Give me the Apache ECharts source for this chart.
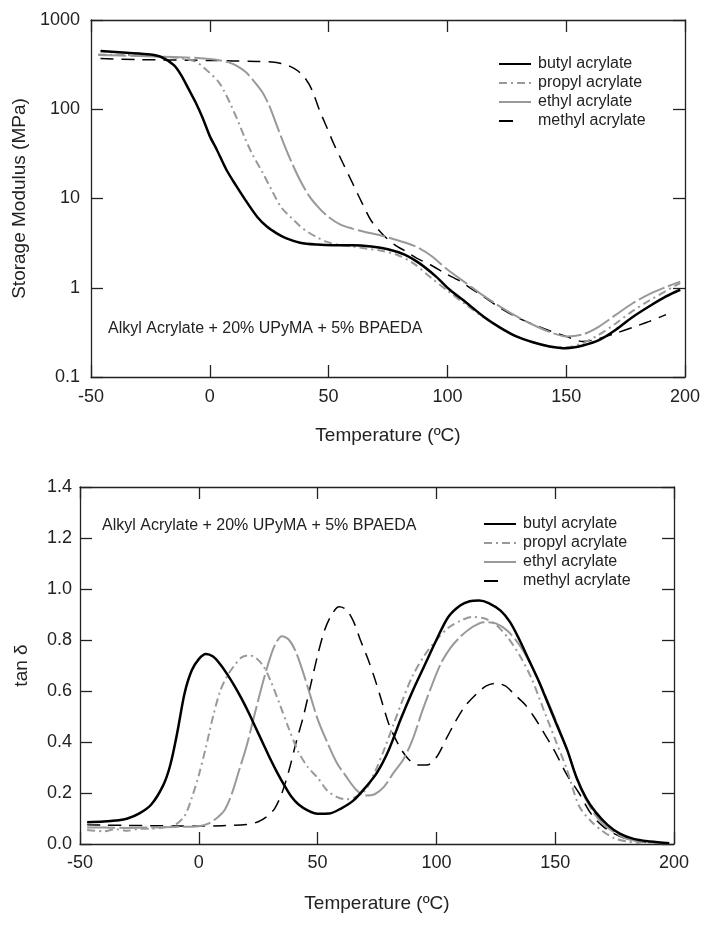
<!DOCTYPE html>
<html>
<head>
<meta charset="utf-8">
<script src="https://cdn.jsdelivr.net/npm/echarts@6/dist/echarts.min.js"></script>
<style>
html,body{margin:0;padding:0;background:#fff;}
#chart{width:714px;height:928px;}
</style>
</head>
<body>
<div id="chart"></div>
<script>
// ---------- data ----------
var seriesNames = ['butyl acrylate', 'propyl acrylate', 'ethyl acrylate', 'methyl acrylate'];
var xTicks = [-50, 0, 50, 100, 150, 200];
var modTicks = [0.1, 1, 10, 100, 1000];
var tanTicks = [0, 0.2, 0.4, 0.6, 0.8, 1.0, 1.2, 1.4];
var annotation = 'Alkyl Acrylate + 20% UPyMA + 5% BPAEDA';

// Storage modulus (MPa)
var butylModT = [-46,-35,-25,-20,-15,-12,-9,-6,-3,0,3,7,11,15,20,24,28,32,38,45,52,60,68,75,82,88,95,101,108,115,122,129,136,143,150,157,164,171,178,185,192,198];
var butylModV = [450,430,410,380,310,240,170,120,80,50,35,21,14,9.6,6.2,4.85,4.1,3.6,3.2,3.05,3.0,3.0,2.9,2.7,2.35,1.9,1.35,0.95,0.68,0.48,0.36,0.285,0.245,0.22,0.21,0.225,0.26,0.34,0.47,0.62,0.8,0.95];

var propylModT = [-47,-35,-25,-15,-10,-6,-3,0,3.6,6,9,12,15,18,22,26,30,34,38,41,45,49,55,60,65,72,79,86,93,100,108,115,122,129,136,143,150,157,164,171,178,185,192,198];
var propylModV = [410,405,395,380,365,341,300,255,204,160,110,72,46,31,20,12.5,8,6.2,4.9,4.26,3.7,3.29,3.0,2.9,2.77,2.6,2.33,1.85,1.3,0.93,0.64,0.47,0.36,0.285,0.245,0.22,0.215,0.24,0.3,0.4,0.55,0.72,0.92,1.13];

var ethylModT = [-47,-30,-15,-5,0,5,8,11,15,18,22,25,28,31,34,38,42,46,50,55,60,65,72,79,86,93,100,108,115,122,129,136,143,150,157,164,171,178,185,192,198];
var ethylModV = [405,395,385,375,365,350,335,310,263,215,157,110,68,42,27,16,10.5,7.8,6.2,5.1,4.6,4.25,3.85,3.4,2.95,2.3,1.6,1.12,0.82,0.62,0.48,0.385,0.32,0.285,0.3,0.37,0.5,0.67,0.85,1.02,1.17];

var methylModT = [-46,-30,-10,0,10,20,26,30,34,37,40,43,46,49,52,56,60,64,68,73,78,82,87,93,99,105,110,115,122,129,136,143,150,157,164,171,178,185,192];
var methylModV = [370,360,355,352,348,343,338,325,300,270,225,165,100,65,42,25,15,9.0,5.6,3.9,3.0,2.6,2.15,1.8,1.45,1.2,0.98,0.8,0.6,0.47,0.39,0.33,0.285,0.25,0.27,0.31,0.36,0.42,0.5];

// tan delta
var butylTanT = [-47,-40,-35,-30,-25,-20,-15,-12,-9,-6,-3,0,3,6,9,12,15,18,21,24,27,30,33,36,39,42,46,50,55,60,65,70,75,80,85,90,95,100,105,110,114,118,122,127,131,135,139,143,147,151,155,159,163,167,172,177,183,190,198];
var butylTanV = [0.085,0.088,0.092,0.1,0.12,0.155,0.23,0.31,0.44,0.59,0.68,0.725,0.745,0.735,0.705,0.665,0.62,0.57,0.515,0.455,0.395,0.335,0.28,0.23,0.185,0.155,0.131,0.119,0.12,0.14,0.17,0.22,0.28,0.37,0.49,0.6,0.7,0.8,0.89,0.935,0.952,0.955,0.945,0.915,0.87,0.8,0.72,0.64,0.55,0.46,0.37,0.26,0.18,0.125,0.075,0.042,0.02,0.01,0.003];

var propylTanT = [-47,-40,-35,-30,-25,-20,-15,-10,-6,-3,0,3,6,9,12,15,18,21,24,27,30,34,38,42,46,50,54,58,62,66,70,74,78,82,86,90,95,100,105,110,115,120,125,130,135,140,145,150,155,160,165,170,175,180,186];
var propylTanV = [0.055,0.05,0.058,0.052,0.06,0.06,0.065,0.075,0.11,0.18,0.27,0.38,0.5,0.6,0.66,0.7,0.732,0.74,0.73,0.7,0.645,0.55,0.45,0.36,0.3,0.26,0.21,0.185,0.175,0.185,0.21,0.28,0.37,0.47,0.57,0.66,0.74,0.8,0.848,0.875,0.89,0.885,0.86,0.81,0.74,0.65,0.53,0.41,0.29,0.15,0.09,0.05,0.022,0.01,0.003];

var ethylTanT = [-47,-40,-30,-20,-10,0,4,8,11,14,17,20,23,26,29,32,35,38,41,44,47,50,54,58,62,66,70,74,78,82,86,90,94,98,102,106,110,115,120,125,130,135,140,145,150,155,160,165,170,175,180,186,192,198];
var ethylTanV = [0.065,0.065,0.063,0.065,0.067,0.07,0.08,0.105,0.135,0.2,0.29,0.38,0.49,0.6,0.7,0.78,0.815,0.8,0.75,0.67,0.58,0.49,0.4,0.32,0.265,0.215,0.19,0.195,0.225,0.28,0.33,0.41,0.52,0.62,0.71,0.77,0.812,0.85,0.87,0.865,0.835,0.78,0.7,0.6,0.49,0.37,0.235,0.14,0.08,0.045,0.02,0.01,0.005,0.003];

var methylTanT = [-47,-40,-30,-20,-10,0,10,20,25,29,32,35,38,41,44,47,50,53,56,59,62,65,68,71,74,77,80,84,88,92,96,100,104,108,112,117,121,125,129,133,137,141,145,150,155,160,165,170,175,180,186,192,198];
var methylTanV = [0.075,0.074,0.073,0.072,0.071,0.07,0.072,0.076,0.087,0.11,0.14,0.2,0.29,0.4,0.5,0.62,0.74,0.84,0.9,0.93,0.92,0.875,0.8,0.73,0.65,0.56,0.47,0.39,0.335,0.31,0.31,0.34,0.41,0.48,0.54,0.59,0.62,0.63,0.62,0.585,0.55,0.5,0.44,0.36,0.27,0.2,0.12,0.07,0.04,0.02,0.01,0.005,0.003];

// ---------- build ----------
function zip(t, v){ return t.map(function(x,i){ return [x, v[i]]; }); }

var FONT = 'Liberation Sans';
var GRAY = '#999999';
var styles = [
  {color:'#000000', width:2.5, type:'solid'},
  {color:GRAY, width:2, type:[8,4,2,4]},
  {color:GRAY, width:2, type:[28,4]},
  {color:'#000000', width:1.5, type:[13,8]}
];
var modData = [zip(butylModT,butylModV), zip(propylModT,propylModV), zip(ethylModT,ethylModV), zip(methylModT,methylModV)];
var tanData = [zip(butylTanT,butylTanV), zip(propylTanT,propylTanV), zip(ethylTanT,ethylTanV), zip(methylTanT,methylTanV)];

var series = [];
seriesNames.forEach(function(n,i){
  series.push({name:n, type:'line', xAxisIndex:0, yAxisIndex:0, data:modData[i], showSymbol:false, symbol:'none',
    smooth:0.3,
    lineStyle:styles[i], itemStyle:{color:styles[i].color}, z: 10-i, animation:false});
});
seriesNames.forEach(function(n,i){
  series.push({name:n, type:'line', xAxisIndex:2, yAxisIndex:2, data:tanData[i], showSymbol:false, symbol:'none',
    smooth:0.3,
    lineStyle:styles[i], itemStyle:{color:styles[i].color}, z: 10-i, animation:false});
});

var axisLine = {show:true, onZero:false, lineStyle:{color:'#222', width:1.3}};
var tick = {show:true, inside:true, length:12, lineStyle:{color:'#222', width:1.3}};
var labelStyle = {fontFamily:FONT, fontSize:18, color:'#222'};

function xAxes(grid, margin, gap){
  return [
    {type:'value', gridIndex:grid, position:'bottom', min:xTicks[0], max:xTicks[xTicks.length-1], interval:50,
      axisLine:axisLine, axisTick:tick,
      axisLabel:Object.assign({margin:margin}, labelStyle), splitLine:{show:false},
      name:'Temperature (ºC)', nameLocation:'middle', nameGap:gap, nameTextStyle:{fontFamily:FONT, fontSize:19, color:'#222'}},
    {type:'value', gridIndex:grid, position:'top', min:xTicks[0], max:xTicks[xTicks.length-1], interval:50,
      axisLine:axisLine, axisTick:tick,
      axisLabel:{show:false}, splitLine:{show:false}}
  ];
}

var legendData = [
  {name:'butyl acrylate'},
  {name:'propyl acrylate'},
  {name:'ethyl acrylate', lineStyle:{type:'solid'}},
  {name:'methyl acrylate', lineStyle:{type:[14,40]}}
];
function legend(left, top){
  return {left:left, top:top, padding:0, orient:'vertical', itemWidth:32, itemHeight:12, itemGap:3, selectedMode:false,
    itemStyle:{opacity:0, borderWidth:0},
    data:legendData, textStyle:{fontFamily:FONT, fontSize:16, color:'#222', lineHeight:16, padding:[0,0,0,2]}};
}

var option = {
  animation:false,
  backgroundColor:'#fff',
  grid:[
    {left:91, top:20, width:594, height:357},
    {left:80, top:487, width:594, height:357}
  ],
  xAxis: xAxes(0, 11, 49).concat(xAxes(1, 10, 50)),
  yAxis:[
    {type:'log', logBase:10, gridIndex:0, position:'left', min:modTicks[0], max:modTicks[modTicks.length-1],
      axisLine:axisLine, axisTick:tick,
      minorTick:{show:false}, splitLine:{show:false},
      axisLabel:Object.assign({margin:11, formatter:function(v){ return String(v); }}, labelStyle),
      name:'Storage Modulus (MPa)', nameLocation:'middle', nameGap:50, nameRotate:90,
      nameTextStyle:{fontFamily:FONT, fontSize:19, color:'#222'}},
    {type:'log', logBase:10, gridIndex:0, position:'right', min:modTicks[0], max:modTicks[modTicks.length-1],
      axisLine:axisLine, axisTick:tick,
      splitLine:{show:false}, axisLabel:{show:false}},
    {type:'value', gridIndex:1, position:'left', min:tanTicks[0], max:tanTicks[tanTicks.length-1], interval:0.2,
      axisLine:axisLine, axisTick:tick,
      splitLine:{show:false},
      axisLabel:Object.assign({margin:8, formatter:function(v){ return v.toFixed(1); }}, labelStyle),
      name:'tan δ', nameLocation:'middle', nameGap:49, nameRotate:90,
      nameTextStyle:{fontFamily:FONT, fontSize:19, color:'#222'}},
    {type:'value', gridIndex:1, position:'right', min:tanTicks[0], max:tanTicks[tanTicks.length-1], interval:0.2,
      axisLine:axisLine, axisTick:tick,
      splitLine:{show:false}, axisLabel:{show:false}}
  ],
  legend:[ legend(498, 56), legend(483, 516) ],
  graphic:[
    {type:'text', left:108, top:321, style:{text:annotation, font:'16px "Liberation Sans"', fill:'#222'}},
    {type:'text', left:102, top:518, style:{text:annotation, font:'16px "Liberation Sans"', fill:'#222'}}
  ],
  series:series
};

var chart = echarts.init(document.getElementById('chart'), null, {renderer:'canvas'});
chart.setOption(option);
</script>
</body>
</html>
